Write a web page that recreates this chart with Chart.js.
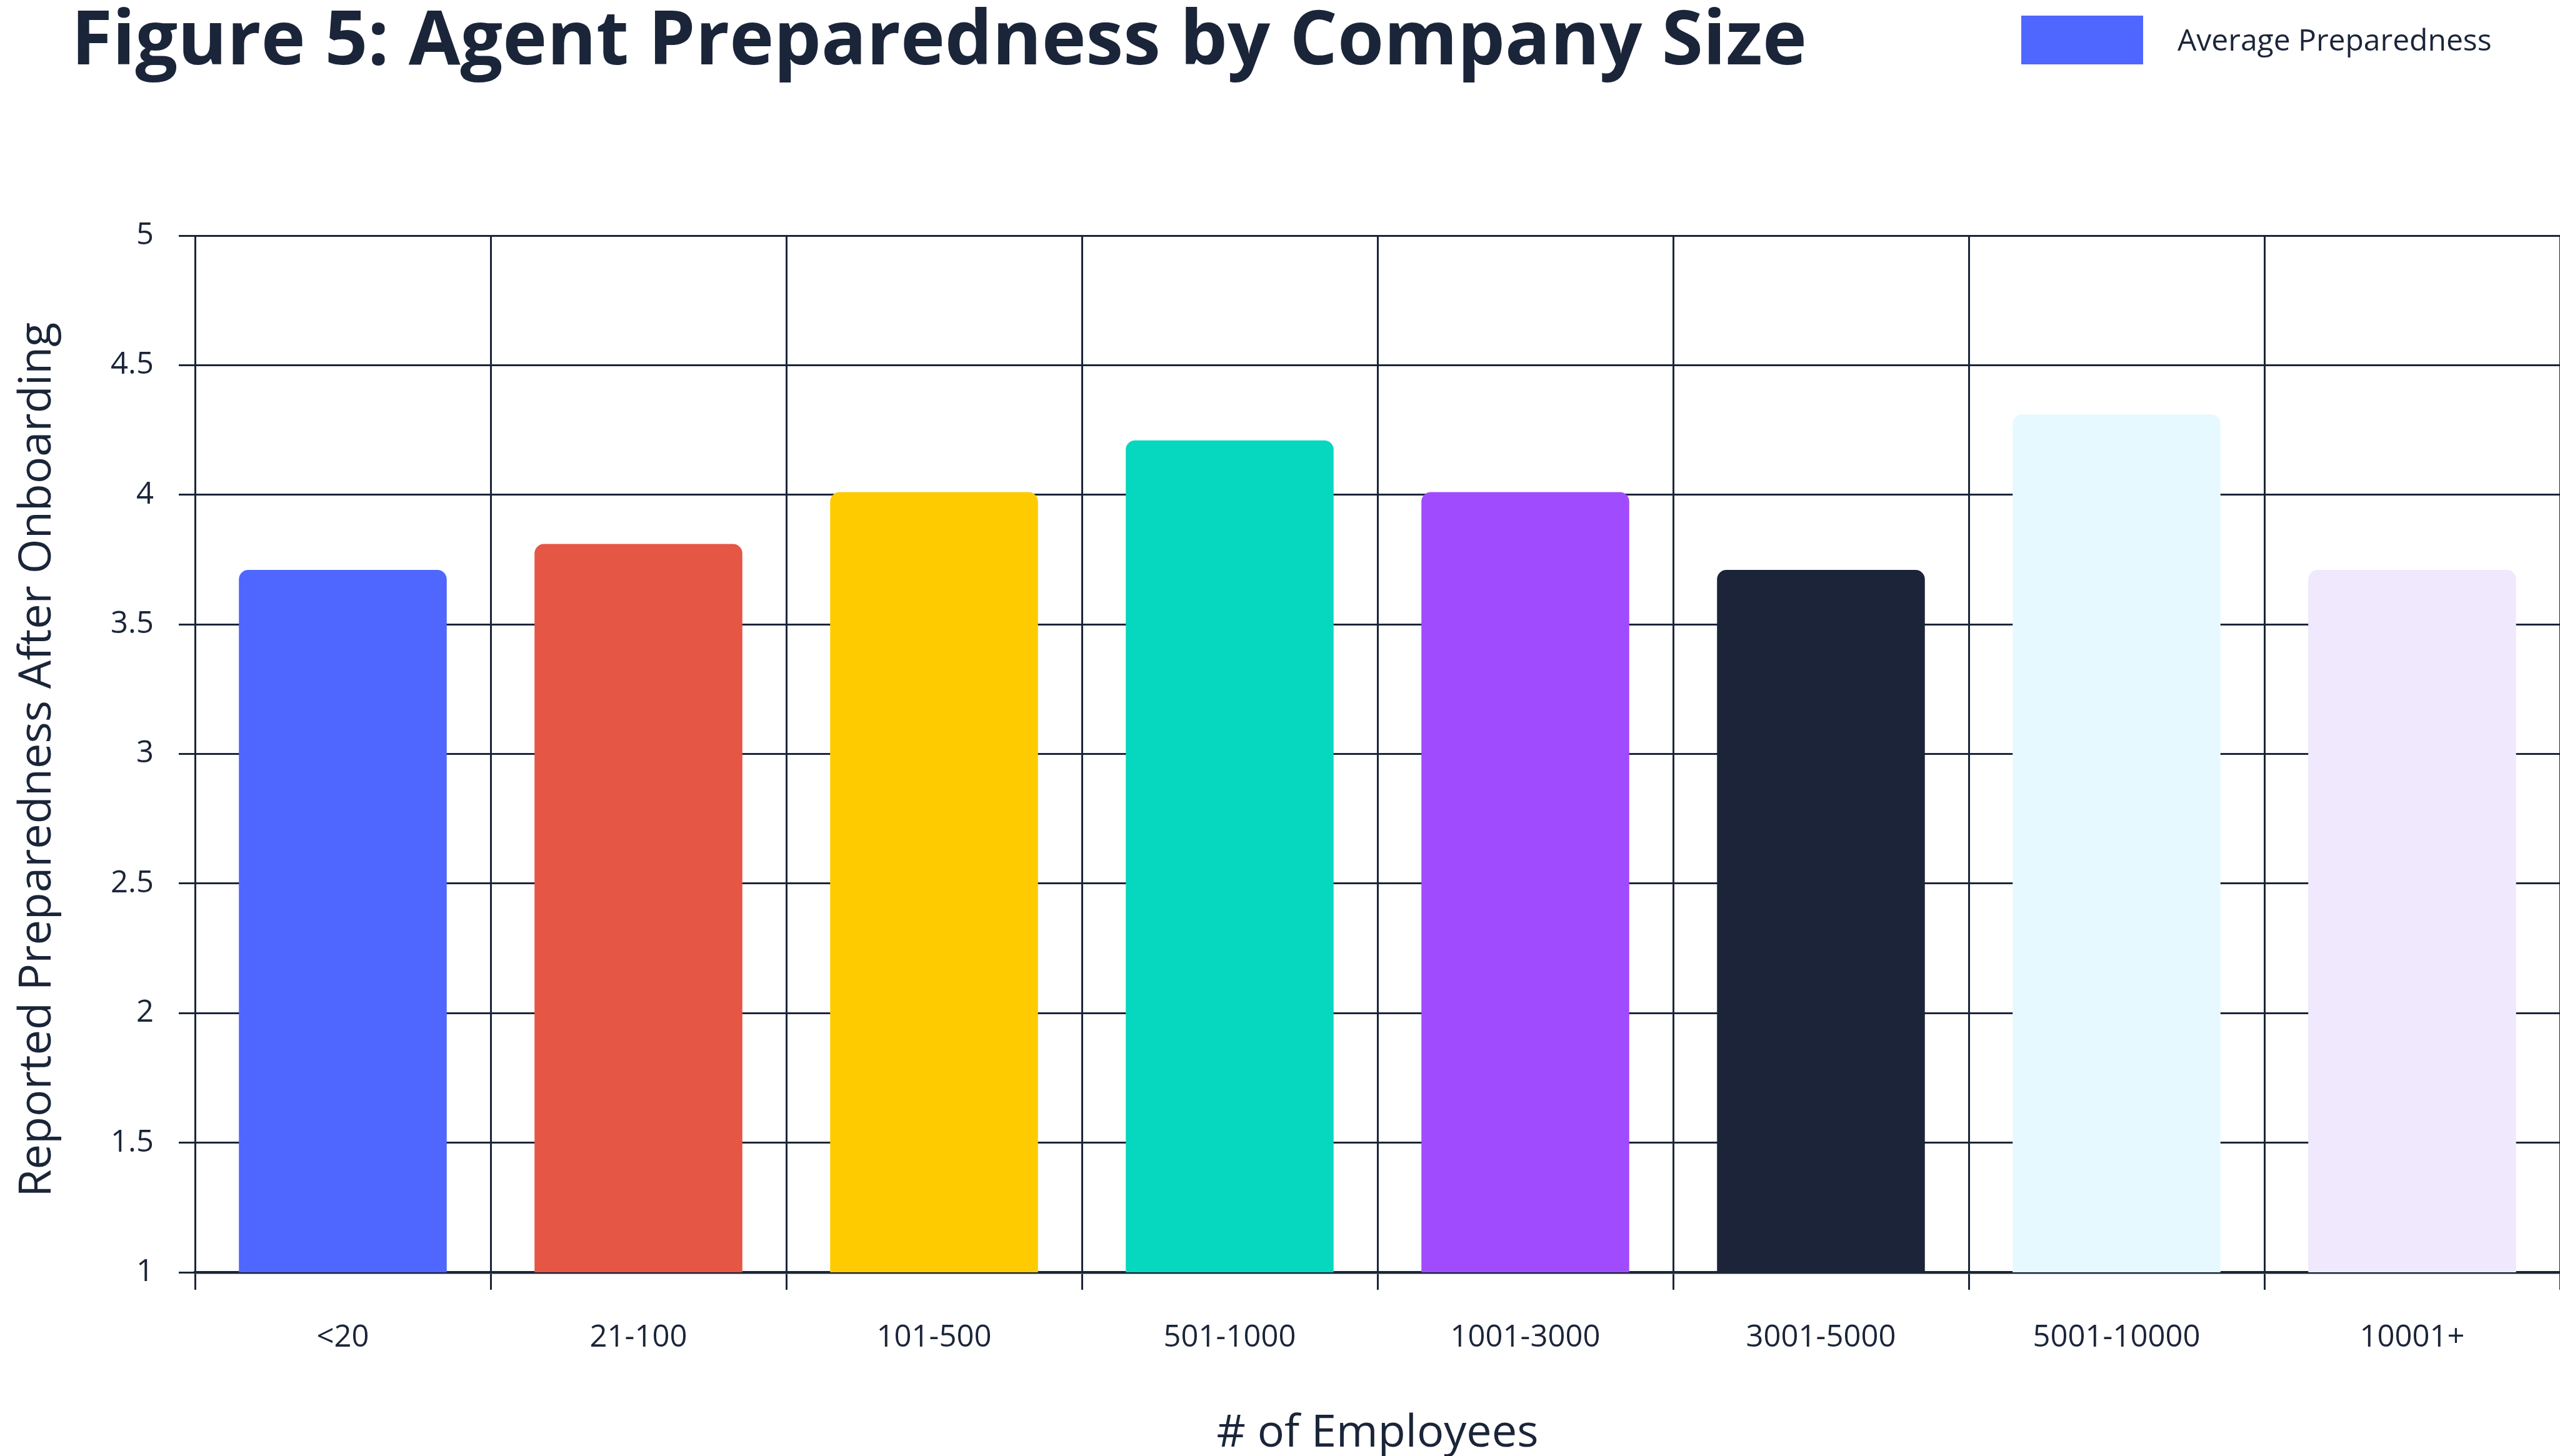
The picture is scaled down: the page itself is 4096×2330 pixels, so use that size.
<!DOCTYPE html>
<html>
<head>
<meta charset="utf-8">
<script src="https://cdn.jsdelivr.net/npm/chart.js@4.4.1/dist/chart.umd.min.js"></script>
<style>
  html, body { margin: 0; padding: 0; background: #ffffff; }
  #wrap { width: 4096px; height: 2330px; position: relative; }
</style>
</head>
<body>
<div id="wrap"><canvas id="c" width="4096" height="2330"></canvas></div>
<script>
const chartTitle = 'Figure 5: Agent Preparedness by Company Size';
const seriesLabel = 'Average Preparedness';
const categories = ['<20', '21-100', '101-500', '501-1000', '1001-3000', '3001-5000', '5001-10000', '10001+'];
const preparedness = [3.71, 3.81, 4.01, 4.21, 4.01, 3.71, 4.31, 3.71];
const barColors = ['#4F66FF', '#E55645', '#FECB00', '#06D7BF', '#A14BFE', '#1B2438', '#E6F9FE', '#F0E8FC'];
const yTickLabels = ['1', '1.5', '2', '2.5', '3', '3.5', '4', '4.5', '5'];
const xAxisTitle = '# of Employees';
const yAxisTitle = 'Reported Preparedness After Onboarding';

const INK = '#1B2539';
const FONT = "'Open Sans', 'Noto Sans', sans-serif";

const headerPlugin = {
  id: 'header',
  afterDraw(chart) {
    const ctx = chart.ctx;
    ctx.save();
    ctx.fillStyle = INK;
    ctx.textBaseline = 'alphabetic';
    ctx.textAlign = 'left';
    ctx.font = "bold 120px " + FONT;
    ctx.fillText(chartTitle, 114, 103);
    // legend
    ctx.fillStyle = barColors[0];
    ctx.fillRect(3234, 25, 195, 78);
    ctx.fillStyle = INK;
    ctx.font = "48px " + FONT;
    ctx.fillText(seriesLabel, 3484, 81);
    ctx.restore();
  }
};

new Chart(document.getElementById('c'), {
  type: 'bar',
  data: {
    labels: categories,
    datasets: [{
      label: seriesLabel,
      data: preparedness,
      backgroundColor: barColors,
      borderWidth: 0,
      borderRadius: { topLeft: 15, topRight: 15, bottomLeft: 0, bottomRight: 0 },
      borderSkipped: false,
      barPercentage: 0.703,
      categoryPercentage: 1.0
    }]
  },
  options: {
    responsive: false,
    animation: false,
    devicePixelRatio: 1,
    layout: { padding: { top: 377, left: 0, right: 0, bottom: 0 } },
    plugins: {
      legend: { display: false },
      title: { display: false },
      tooltip: { enabled: false }
    },
    scales: {
      x: {
        offset: true,
        grid: { display: true, offset: true, color: INK, lineWidth: 3, tickLength: 28, drawOnChartArea: true, drawTicks: true },
        border: { display: true, color: INK, width: 4.5 },
        ticks: { color: INK, font: { family: FONT, size: 49 }, padding: 48, maxRotation: 0, autoSkip: false },
        title: { display: true, text: xAxisTitle, color: INK, font: { family: FONT, size: 72, lineHeight: 1 }, padding: { top: 0, bottom: 0 } },
        afterFit(scale) { scale.height = 294; }
      },
      y: {
        min: 1,
        max: 5,
        grid: { color: INK, lineWidth: 3, tickLength: 26, drawTicks: true },
        border: { display: true, color: INK, width: 3 },
        ticks: {
          stepSize: 0.5,
          color: INK,
          font: { family: FONT, size: 49 },
          padding: 40,
          callback(value) {
            const i = Math.round((value - 1) / 0.5);
            return yTickLabels[i];
          }
        },
        title: { display: true, text: yAxisTitle + ' ', color: INK, font: { family: FONT, size: 72, lineHeight: 1 }, padding: { top: 24, bottom: 0 } },
        afterFit(scale) { scale.width = 312; }
      }
    }
  },
  plugins: [headerPlugin]
});
</script>
</body>
</html>
